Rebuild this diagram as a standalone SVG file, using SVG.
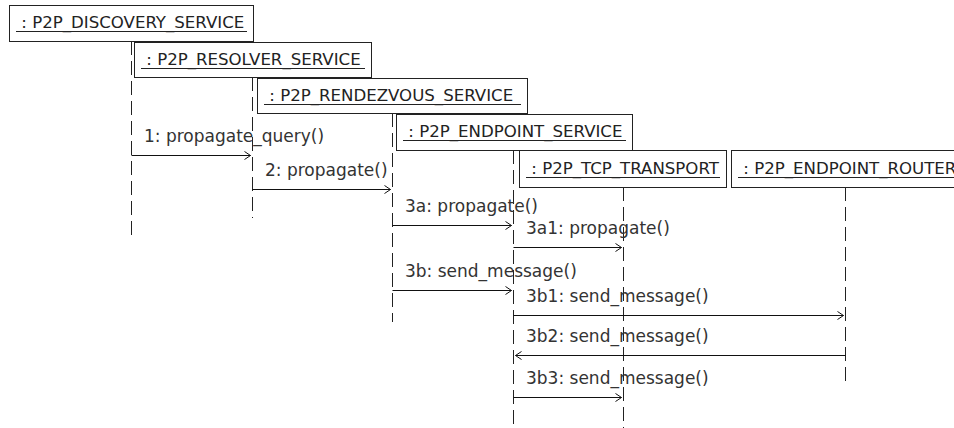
<svg xmlns="http://www.w3.org/2000/svg" width="954" height="428" viewBox="0 0 954 428">
  <style>
    .box { fill: #fff; stroke: #222; stroke-width: 1; }
    .lbl { font-family: "DejaVu Sans", "Liberation Sans", sans-serif; font-size: 16.6px; fill: #222; }
    .ul { stroke: #222; stroke-width: 1; }
    .life { stroke: #222; stroke-width: 1; stroke-dasharray: 14 6; fill: none; }
    .msg { stroke: #111; stroke-width: 1; fill: none; }
    .mtxt { font-family: "DejaVu Sans", "Liberation Sans", sans-serif; font-size: 17px; fill: #333; }
  </style>
  <defs>
    <marker id="open" markerWidth="10" markerHeight="10" refX="7" refY="5" orient="auto" markerUnits="userSpaceOnUse">
      <path d="M1,1 L7,5 L1,9" fill="none" stroke="#111" stroke-width="1"/>
    </marker>
  </defs>

  <rect width="954" height="428" fill="#fff"/>

  <!-- lifelines -->
  <g id="lifelines">
    <line class="life" x1="131.5" y1="41" x2="131.5" y2="237"/>
    <line class="life" x1="252.5" y1="77" x2="252.5" y2="218"/>
    <line class="life" x1="392.5" y1="113" x2="392.5" y2="322"/>
    <line class="life" x1="513.5" y1="150" x2="513.5" y2="428"/>
    <line class="life" x1="623.5" y1="187" x2="623.5" y2="428"/>
    <line class="life" x1="845.5" y1="187" x2="845.5" y2="386"/>
  </g>

  <!-- participants -->
  <g id="discovery">
    <rect class="box" x="9.5" y="5.5" width="244" height="36"/>
    <text class="lbl" x="16" y="28" xml:space="preserve"> : P2P_DISCOVERY_SERVICE</text>
    <line class="ul" x1="16" y1="31.5" x2="247" y2="31.5"/>
  </g>
  <g id="resolver">
    <rect class="box" x="134.5" y="42.5" width="237" height="35"/>
    <text class="lbl" x="141" y="65" xml:space="preserve"> : P2P_RESOLVER_SERVICE</text>
    <line class="ul" x1="141" y1="68.5" x2="365" y2="68.5"/>
  </g>
  <g id="rendezvous">
    <rect class="box" x="257.5" y="78.5" width="270" height="35"/>
    <text class="lbl" x="264" y="101" xml:space="preserve"> : P2P_RENDEZVOUS_SERVICE</text>
    <line class="ul" x1="264" y1="104.5" x2="521" y2="104.5"/>
  </g>
  <g id="endpoint">
    <rect class="box" x="396.5" y="114.5" width="236" height="36"/>
    <text class="lbl" x="403" y="137" xml:space="preserve"> : P2P_ENDPOINT_SERVICE</text>
    <line class="ul" x1="403" y1="140.5" x2="626" y2="140.5"/>
  </g>
  <g id="tcp">
    <rect class="box" x="519.5" y="150.5" width="207" height="37"/>
    <text class="lbl" x="526" y="174" xml:space="preserve"> : P2P_TCP_TRANSPORT</text>
    <line class="ul" x1="526" y1="177.5" x2="720" y2="177.5"/>
  </g>
  <g id="router">
    <rect class="box" x="731.5" y="150.5" width="240" height="37"/>
    <text class="lbl" x="738" y="174" xml:space="preserve"> : P2P_ENDPOINT_ROUTER</text>
    <line class="ul" x1="738" y1="177.5" x2="960" y2="177.5"/>
  </g>

  <!-- messages -->
  <g id="connectors">
    <line class="msg" x1="131.5" y1="155.5" x2="250.5" y2="155.5" marker-end="url(#open)"/>
    <line class="msg" x1="252.5" y1="189.5" x2="390.5" y2="189.5" marker-end="url(#open)"/>
    <line class="msg" x1="392.5" y1="225.5" x2="511.5" y2="225.5" marker-end="url(#open)"/>
    <line class="msg" x1="513.5" y1="247.5" x2="621.5" y2="247.5" marker-end="url(#open)"/>
    <line class="msg" x1="392.5" y1="290.5" x2="511.5" y2="290.5" marker-end="url(#open)"/>
    <line class="msg" x1="513.5" y1="315.5" x2="843.5" y2="315.5" marker-end="url(#open)"/>
    <line class="msg" x1="845.5" y1="355.5" x2="515.5" y2="355.5" marker-end="url(#open)"/>
    <line class="msg" x1="513.5" y1="397.5" x2="621.5" y2="397.5" marker-end="url(#open)"/>
  </g>

  <g id="message-labels">
    <text class="mtxt" x="144" y="142">1: propagate_query()</text>
    <text class="mtxt" x="265" y="176">2: propagate()</text>
    <text class="mtxt" x="405" y="212">3a: propagate()</text>
    <text class="mtxt" x="526" y="234">3a1: propagate()</text>
    <text class="mtxt" x="405" y="277">3b: send_message()</text>
    <text class="mtxt" x="526" y="302">3b1: send_message()</text>
    <text class="mtxt" x="526" y="342">3b2: send_message()</text>
    <text class="mtxt" x="526" y="384">3b3: send_message()</text>
  </g>
</svg>
